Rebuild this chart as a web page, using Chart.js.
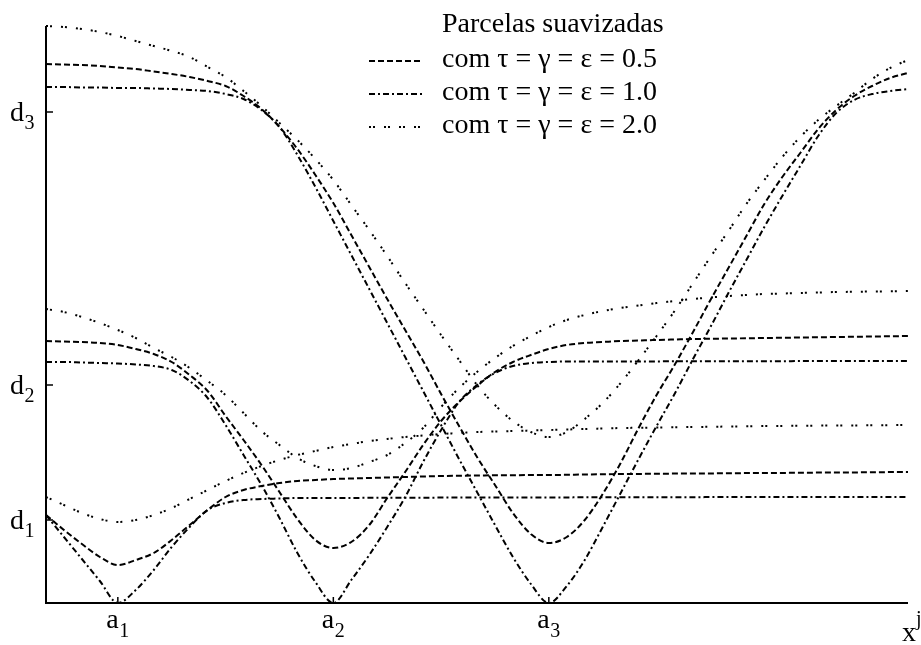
<!DOCTYPE html>
<html>
<head>
<meta charset="utf-8">
<title>Parcelas suavizadas</title>
<script src="https://cdn.jsdelivr.net/npm/chart.js@4.4.1/dist/chart.umd.min.js"></script>
<style>
  html, body { margin: 0; padding: 0; background: #ffffff; }
  canvas { display: block; }
</style>
</head>
<body>
<canvas id="chart" width="921" height="645"></canvas>
<script>
// Abscissa samples (a1 = 1, a2 = 4, a3 = 7)
const xs = [0,0.25,0.5,0.75,1,1.25,1.5,1.75,2,2.25,2.5,2.75,3,3.25,3.5,3.75,4,4.25,4.5,4.75,5,5.25,5.5,5.75,6,6.25,6.5,6.75,7,7.25,7.5,7.75,8,8.25,8.5,8.75,9,9.25,9.5,9.75,10,10.25,10.5,10.75,11,11.25,11.5,11.75,12];

// Term around a1
const p1_05 = [8.8,7.3,5.9,4.6,3.8,4.3,5.0,6.3,7.8,9.3,10.6,11.3,11.7,12.0,12.2,12.3,12.4,12.45,12.5,12.55,12.6,12.65,12.7,12.72,12.75,12.77,12.78,12.8,12.8,12.82,12.85,12.87,12.9,12.91,12.92,12.94,12.95,12.96,12.97,12.99,13.0,13.01,13.02,13.04,13.05,13.06,13.07,13.09,13.1];
const p1_10 = [8.8,6.6,4.4,2.2,0,1.3,3.3,5.6,7.6,9.3,10.0,10.3,10.4,10.45,10.5,10.5,10.5,10.5,10.52,10.52,10.53,10.53,10.54,10.54,10.55,10.55,10.55,10.56,10.56,10.56,10.57,10.57,10.57,10.58,10.58,10.58,10.58,10.59,10.59,10.59,10.59,10.6,10.6,10.6,10.6,10.6,10.6,10.6,10.6];
const p1_20 = [10.6,9.8,9.0,8.4,8.1,8.3,8.8,9.5,10.4,11.3,12.2,13.0,13.7,14.3,14.8,15.2,15.6,15.9,16.2,16.4,16.6,16.75,16.9,17.0,17.1,17.15,17.2,17.25,17.3,17.35,17.4,17.45,17.5,17.52,17.55,17.57,17.6,17.62,17.65,17.67,17.7,17.71,17.72,17.74,17.75,17.76,17.77,17.79,17.8];

// Term around a2
const p2_05 = [26.2,26.15,26.1,26.0,25.8,25.4,24.9,24.1,22.8,21.2,18.7,16.3,13.8,11.1,8.4,6.3,5.5,6.1,7.8,10.5,13.1,15.8,18.2,20.1,21.7,23.1,24.1,24.8,25.4,25.8,26.0,26.1,26.2,26.25,26.3,26.35,26.4,26.42,26.45,26.47,26.5,26.52,26.55,26.57,26.6,26.62,26.65,26.67,26.7];
const p2_10 = [24.1,24.1,24.05,24.0,23.95,23.85,23.7,23.3,22.2,20.5,17.8,14.8,11.8,8.5,5.0,2.1,0,2.3,4.8,7.6,10.6,14.1,17.3,20.1,21.8,23.0,23.7,24.0,24.1,24.15,24.15,24.15,24.16,24.16,24.16,24.17,24.17,24.17,24.18,24.18,24.18,24.18,24.19,24.19,24.19,24.19,24.2,24.2,24.2];
const p2_20 = [29.4,29.1,28.6,28.0,27.3,26.5,25.5,24.6,23.5,22.2,20.8,19.0,17.2,15.8,14.5,13.7,13.3,13.5,14.1,14.8,16.0,17.5,19.6,21.5,23.1,24.5,25.7,26.7,27.6,28.3,28.8,29.2,29.5,29.75,30.0,30.2,30.4,30.55,30.7,30.8,30.9,30.95,31.0,31.05,31.1,31.12,31.15,31.17,31.2];

// Term around a3
const p3_05 = [53.9,53.85,53.8,53.7,53.55,53.4,53.15,52.9,52.6,52.2,51.7,50.7,49.4,47.6,45.4,42.8,40.0,36.8,33.6,30.4,27.3,24.2,20.9,17.7,14.6,11.8,9.0,6.9,6.0,6.6,8.3,10.9,14.0,17.5,20.8,23.8,27.0,30.3,33.5,36.7,39.9,42.6,45.0,47.4,49.3,50.7,51.7,52.5,53.0];
const p3_10 = [51.6,51.6,51.55,51.55,51.5,51.5,51.45,51.4,51.3,51.2,50.9,50.4,49.3,47.6,44.8,41.6,38.2,34.8,31.4,28.0,24.6,21.2,17.8,14.4,11.1,7.8,4.6,1.9,0,1.7,4.3,7.6,11.0,14.4,17.7,20.9,24.3,27.6,31.0,34.3,37.6,40.7,43.7,46.7,49.0,50.3,50.9,51.2,51.4];
const p3_20 = [57.7,57.6,57.4,57.1,56.7,56.2,55.7,55.2,54.6,53.6,52.6,51.2,49.7,48.0,46.3,44.4,42.3,39.8,37.3,34.7,32.0,29.4,26.8,24.3,21.8,19.8,18.2,17.1,16.6,17.1,18.4,20.0,22.0,24.3,26.7,29.2,31.9,34.6,37.2,39.9,42.3,44.6,46.6,48.3,49.7,51.0,52.4,53.5,54.3];

// Axis marks
const aTicks = [1, 4, 7];
const aSubs = ['1', '2', '3'];
const dTicks = [8.3, 21.8, 49.1];
const dSubs = ['1', '2', '3'];
const xMax = 12;
const yMax = 57.7;

// Smoothing parameters (tau = gamma = epsilon)
const params = ['0.5', '1.0', '2.0'];
const dashes = [[6, 3], [6, 3, 2, 3], [2, 2, 2, 9]];

const SERIF = '"Liberation Serif", "Times New Roman", Times, serif';

const seriesByParam = [
  [p1_05, p2_05, p3_05],
  [p1_10, p2_10, p3_10],
  [p1_20, p2_20, p3_20]
];

const datasets = [];
seriesByParam.forEach((group, pi) => {
  group.forEach((ys) => {
    datasets.push({
      label: 'com \u03C4 = \u03B3 = \u03B5 = ' + params[pi],
      data: xs.map((x, i) => ({ x: x, y: ys[i] })),
      borderColor: '#000000',
      borderWidth: 2,
      borderDash: dashes[pi],
      pointRadius: 0,
      fill: false,
      cubicInterpolationMode: 'monotone',
      clip: false
    });
  });
});

function drawSubscripted(ctx, main, sub, x, baseline, subBaseline) {
  ctx.font = '28px ' + SERIF;
  ctx.fillText(main, x, baseline);
  const w = ctx.measureText(main).width;
  ctx.font = '20px ' + SERIF;
  ctx.fillText(sub, x + w + 0.5, subBaseline);
}

const axesPlugin = {
  id: 'axesAndLabels',
  afterDatasetsDraw(chart) {
    const ctx = chart.ctx;
    const sx = chart.scales.x;
    const sy = chart.scales.y;
    const x0 = sx.getPixelForValue(0);
    const x1 = sx.getPixelForValue(xMax);
    const y0 = sy.getPixelForValue(0);
    const yTop = sy.getPixelForValue(yMax);

    ctx.save();
    ctx.strokeStyle = '#000000';
    ctx.fillStyle = '#000000';
    ctx.setLineDash([]);
    ctx.lineWidth = 2;
    ctx.beginPath();
    ctx.moveTo(x0, yTop);
    ctx.lineTo(x0, y0);
    ctx.lineTo(x1, y0);
    ctx.stroke();

    ctx.lineWidth = 1.5;
    ctx.textBaseline = 'alphabetic';
    ctx.textAlign = 'left';

    // vertical axis marks d1, d2, d3
    dTicks.forEach((v, i) => {
      const py = sy.getPixelForValue(v);
      ctx.beginPath();
      ctx.moveTo(x0, py);
      ctx.lineTo(x0 + 7, py);
      ctx.stroke();
      drawSubscripted(ctx, 'd', dSubs[i], 10, py + 9, py + 17);
    });

    // horizontal axis marks a1, a2, a3
    aTicks.forEach((v, i) => {
      const px = sx.getPixelForValue(v);
      ctx.beginPath();
      ctx.moveTo(px, y0);
      ctx.lineTo(px, y0 - 6);
      ctx.stroke();
      ctx.font = '28px ' + SERIF;
      const wa = ctx.measureText('a').width;
      ctx.font = '20px ' + SERIF;
      const ws = ctx.measureText(aSubs[i]).width;
      const start = px - (wa + ws + 0.5) / 2;
      drawSubscripted(ctx, 'a', aSubs[i], start, y0 + 25, y0 + 34);
    });

    // axis name x^j
    ctx.font = '28px ' + SERIF;
    ctx.fillText('x', x1 - 6, y0 + 38);
    const wx = ctx.measureText('x').width;
    ctx.font = '20px ' + SERIF;
    ctx.fillText('j', x1 - 6 + wx, y0 + 22);

    // legend
    ctx.font = '28px ' + SERIF;
    ctx.fillText('Parcelas suavizadas', 442, 32);
    params.forEach((p, i) => {
      const yb = 67 + i * 33;
      ctx.lineWidth = 2;
      ctx.setLineDash(dashes[i]);
      ctx.beginPath();
      ctx.moveTo(369, yb - 6);
      ctx.lineTo(423, yb - 6);
      ctx.stroke();
      ctx.setLineDash([]);
      ctx.font = '28px ' + SERIF;
      ctx.fillText('com \u03C4 = \u03B3 = \u03B5 = ' + p, 442, yb);
    });
    ctx.restore();
  }
};

new Chart(document.getElementById('chart'), {
  type: 'line',
  data: { datasets: datasets },
  options: {
    responsive: false,
    animation: false,
    devicePixelRatio: 1,
    layout: { padding: { left: 46, right: 13, top: 26, bottom: 42 } },
    plugins: { legend: { display: false }, tooltip: { enabled: false }, title: { display: false } },
    scales: {
      x: { type: 'linear', min: 0, max: xMax, display: false },
      y: { type: 'linear', min: 0, max: yMax, display: false }
    }
  },
  plugins: [axesPlugin]
});
</script>
</body>
</html>
